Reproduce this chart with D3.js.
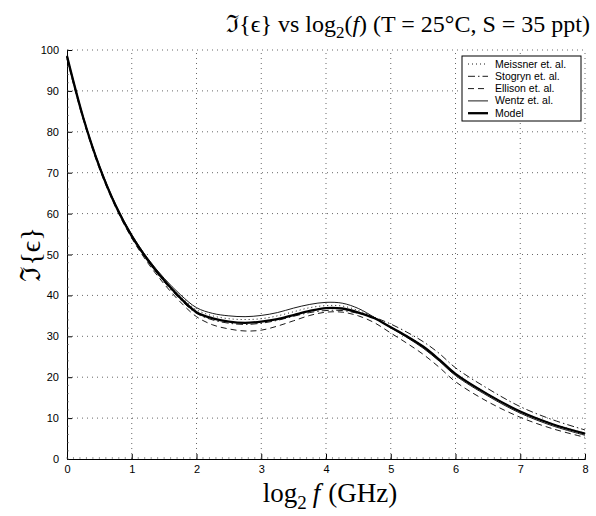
<!DOCTYPE html>
<html>
<head>
<meta charset="utf-8">
<script src="https://cdn.jsdelivr.net/npm/d3@7"></script>
<style>
  body { margin: 0; background: #fff; }
  svg { display: block; }
</style>
</head>
<body>
<svg id="chart"></svg>
<script>
// log2 of frequency in GHz
const freqLog2 = [0, 0.25, 0.5, 0.75, 1, 1.25, 1.5, 1.75, 2, 2.25, 2.5, 2.75, 3, 3.25, 3.5, 3.75, 4, 4.25, 4.5, 4.75, 5, 5.25, 5.5, 5.75, 6, 6.5, 7, 7.5, 8];

// imaginary part of permittivity
const meissner = [98.5, 83.6, 71.6, 62.1, 54.7, 48.8, 43.9, 39.8, 36.5, 35.0, 34.3, 34.1, 34.3, 35.0, 36.0, 37.0, 37.5, 37.4, 36.3, 34.6, 32.3, 30.1, 27.6, 24.4, 20.9, 15.9, 11.7, 8.6, 6.3];
const stogryn  = [98.2, 83.3, 71.3, 61.9, 54.4, 48.4, 43.3, 39.0, 35.6, 34.0, 33.2, 32.9, 33.2, 33.9, 34.9, 35.8, 36.3, 36.3, 35.6, 34.6, 33.0, 31.0, 28.7, 25.8, 22.3, 17.2, 12.8, 9.6, 7.1];
const ellison  = [97.8, 83.0, 71.0, 61.6, 54.0, 47.9, 42.8, 38.4, 34.8, 32.8, 31.8, 31.3, 31.5, 32.5, 33.8, 35.1, 35.9, 35.9, 35.0, 33.3, 30.8, 28.3, 25.6, 22.4, 18.9, 14.0, 10.2, 7.4, 5.3];
const wentz    = [98.6, 83.7, 71.8, 62.3, 54.9, 49.0, 44.2, 40.2, 37.0, 35.6, 35.0, 34.8, 35.1, 35.8, 36.9, 37.8, 38.3, 38.1, 36.8, 34.6, 32.1, 29.7, 27.1, 23.9, 20.4, 15.4, 11.2, 8.1, 5.8];
const model    = [98.5, 83.5, 71.5, 62.0, 54.5, 48.6, 43.7, 39.4, 35.9, 34.4, 33.6, 33.3, 33.6, 34.2, 35.2, 36.2, 36.9, 36.8, 35.8, 34.4, 32.2, 30.0, 27.5, 24.3, 20.8, 15.8, 11.6, 8.5, 6.2];

const seriesNames = ["Meissner et. al.", "Stogryn et. al.", "Ellison et. al.", "Wentz et. al.", "Model"];
const xTicks = [0, 1, 2, 3, 4, 5, 6, 7, 8];
const yTicks = [0, 10, 20, 30, 40, 50, 60, 70, 80, 90, 100];

const width = 596, height = 516;
const margin = {left: 67, right: 11, top: 50, bottom: 57};

const svg = d3.select("#chart")
  .attr("width", width)
  .attr("height", height);

const x = d3.scaleLinear().domain([0, 8]).range([margin.left, width - margin.right]);
const y = d3.scaleLinear().domain([0, 100]).range([height - margin.bottom, margin.top]);

// dotted grid
const grid = svg.append("g");
grid.selectAll(".gx")
  .data(xTicks.slice(1))
  .enter().append("line")
  .attr("x1", d => x(d)).attr("x2", d => x(d))
  .attr("y1", y(0)).attr("y2", y(100))
  .attr("stroke", "#000").attr("stroke-width", 0.6)
  .attr("stroke-dasharray", "1,4");
grid.selectAll(".gy")
  .data(yTicks.slice(1))
  .enter().append("line")
  .attr("x1", x(0)).attr("x2", x(8))
  .attr("y1", d => y(d)).attr("y2", d => y(d))
  .attr("stroke", "#000").attr("stroke-width", 0.6)
  .attr("stroke-dasharray", "1,4");

// axes, ticks point inward like matlab
const xAxis = d3.axisBottom(x).tickValues(xTicks).tickSize(-5).tickPadding(6).tickFormat(d3.format("d"));
const yAxis = d3.axisLeft(y).tickValues(yTicks).tickSize(-5).tickPadding(8).tickFormat(d3.format("d"));

const gx = svg.append("g").attr("transform", `translate(0,${y(0)})`).call(xAxis);
const gy = svg.append("g").attr("transform", `translate(${x(0)},0)`).call(yAxis);

[gx, gy].forEach(g => {
  g.select(".domain").attr("stroke", "#000").attr("stroke-width", 1);
  g.selectAll(".tick line").attr("stroke", "#000");
  g.selectAll(".tick text")
    .attr("fill", "#000")
    .style("font-family", "'Liberation Sans', Arial, sans-serif")
    .style("font-size", "11px");
});

// minor ticks
const minorX = d3.range(0, 8.001, 0.1);
const minorY = d3.range(0, 100.001, 2);
svg.append("g").selectAll("line")
  .data(minorX)
  .enter().append("line")
  .attr("x1", d => x(d)).attr("x2", d => x(d))
  .attr("y1", y(0)).attr("y2", y(0) - 2)
  .attr("stroke", "#555").attr("stroke-width", 0.6);
svg.append("g").selectAll("line")
  .data(minorY)
  .enter().append("line")
  .attr("x1", x(0)).attr("x2", x(0) + 2)
  .attr("y1", d => y(d)).attr("y2", d => y(d))
  .attr("stroke", "#555").attr("stroke-width", 0.6);

// curves
const styles = [
  {values: meissner, width: 0.9, dash: "1,3"},
  {values: stogryn, width: 0.9, dash: "7,3,1.5,3"},
  {values: ellison, width: 0.9, dash: "6,4"},
  {values: wentz, width: 0.9, dash: null},
  {values: model, width: 2.3, dash: null}
];

const line = d3.line()
  .x(d => x(d[0]))
  .y(d => y(d[1]))
  .curve(d3.curveCatmullRom.alpha(0.5));

svg.append("g").selectAll("path")
  .data(styles)
  .enter().append("path")
  .attr("d", s => line(freqLog2.map((f, i) => [f, s.values[i]])))
  .attr("fill", "none")
  .attr("stroke", "#000")
  .attr("stroke-width", s => s.width)
  .attr("stroke-dasharray", s => s.dash);

// legend
const legend = svg.append("g").attr("transform", "translate(462,56)");
legend.append("rect")
  .attr("width", 119).attr("height", 65)
  .attr("fill", "#fff").attr("stroke", "#000").attr("stroke-width", 1);
styles.forEach((s, i) => {
  const ly = 8 + i * 12.3;
  legend.append("line")
    .attr("x1", 6).attr("x2", 26)
    .attr("y1", ly).attr("y2", ly)
    .attr("stroke", "#000")
    .attr("stroke-width", s.width)
    .attr("stroke-dasharray", s.dash);
  legend.append("text")
    .attr("x", 33).attr("y", ly + 3.5)
    .style("font-family", "'Liberation Sans', Arial, sans-serif")
    .style("font-size", "10.5px")
    .text(seriesNames[i]);
});

// title (sits toward the right, as in the original figure)
const serif = "'Liberation Serif', 'Times New Roman', 'DejaVu Serif', serif";
const title = svg.append("text")
  .attr("x", 590)
  .attr("y", 32)
  .attr("text-anchor", "end")
  .style("font-family", serif)
  .style("font-size", "24px");
title.append("tspan").text("ℑ{ϵ} vs log");
title.append("tspan").attr("dy", 6).style("font-size", "17px").text("2");
title.append("tspan").attr("dy", -6).text("(");
title.append("tspan").style("font-style", "italic").text("f");
title.append("tspan").text(") (T = 25°C, S = 35 ppt)");

// x label
const xl = svg.append("text")
  .attr("x", 330)
  .attr("y", 502)
  .attr("text-anchor", "middle")
  .style("font-family", serif)
  .style("font-size", "27px");
xl.append("tspan").text("log");
xl.append("tspan").attr("dy", 7).style("font-size", "19px").text("2");
xl.append("tspan").attr("dy", -7).attr("dx", 6).style("font-style", "italic").text("f");
xl.append("tspan").attr("dx", 8).text("(GHz)");

// y label
svg.append("text")
  .attr("transform", `translate(40,${(y(0) + y(100)) / 2}) rotate(-90)`)
  .attr("text-anchor", "middle")
  .style("font-family", serif)
  .style("font-size", "28px")
  .text("ℑ{ϵ}");
</script>
</body>
</html>
